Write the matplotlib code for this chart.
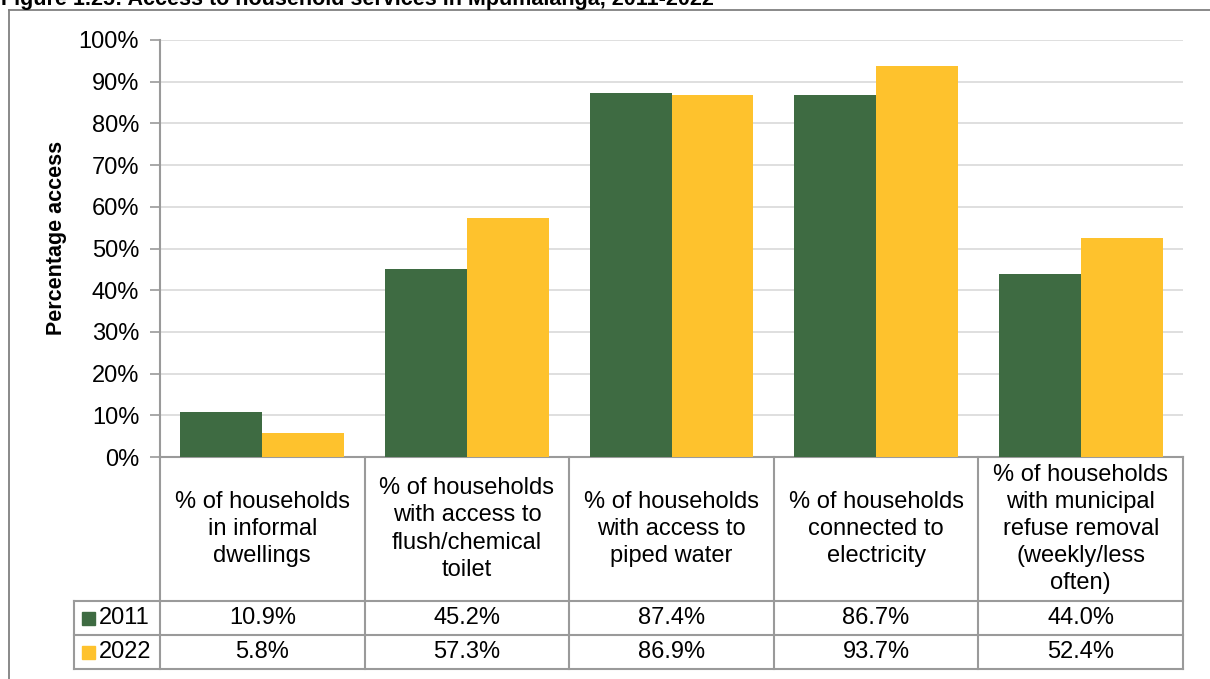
import matplotlib.pyplot as plt
import matplotlib.transforms as mtransforms
from matplotlib.patches import Rectangle
import numpy as np

plt.rcParams['font.family'] = ['Liberation Sans', 'DejaVu Sans']

categories = [
    "% of households\nin informal\ndwellings",
    "% of households\nwith access to\nflush/chemical\ntoilet",
    "% of households\nwith access to\npiped water",
    "% of households\nconnected to\nelectricity",
    "% of households\nwith municipal\nrefuse removal\n(weekly/less\noften)",
]
years = ["2011", "2022"]
vals_2011 = [10.9, 45.2, 87.4, 86.7, 44.0]
vals_2022 = [5.8, 57.3, 86.9, 93.7, 52.4]

GREEN = '#3E6B42'
YELLOW = '#FEC22D'
LINE = '#9a9a9a'
FS = 17

W, H = 1210, 679
fig = plt.figure(figsize=(W / 100, H / 100), dpi=100)

# axes box in pixels
left, right, top, bottom = 160, 1183, 40, 457
ax = fig.add_axes([left / W, 1 - bottom / H, (right - left) / W, (bottom - top) / H])

x = np.arange(len(categories))
bw = 0.4
ax.bar(x - bw / 2, vals_2011, width=bw, color=GREEN, zorder=3)
ax.bar(x + bw / 2, vals_2022, width=bw, color=YELLOW, zorder=3)

ax.set_xlim(-0.5, len(categories) - 0.5)
ax.set_ylim(0, 100)
ax.set_yticks(range(0, 101, 10))
ax.set_yticklabels([f"{v}%" for v in range(0, 101, 10)], fontsize=FS)
ax.set_xticks([])
ax.yaxis.grid(True, color='#d9d9d9', linewidth=1.2, zorder=0)
ax.tick_params(axis='y', length=7, width=1.2, color=LINE, pad=8)
for s in ['top', 'right']:
    ax.spines[s].set_visible(False)
for s in ['left', 'bottom']:
    ax.spines[s].set_color(LINE)
    ax.spines[s].set_linewidth(1.5)
ax.set_ylabel("Percentage access", fontsize=15.5, fontweight='bold')
ax.yaxis.set_label_coords(-0.091, 0.525)

# data table under the bars: x in data units, y in axes fraction
tr = mtransforms.blended_transform_factory(ax.transData, ax.transAxes)
px = 1.0 / (bottom - top)
y_head = -(601 - bottom) * px
y_row1 = -(635 - bottom) * px
y_row2 = -(669 - bottom) * px
x_leg = -0.5 - (left - 74) / ((right - left) / len(categories))
lk = dict(transform=tr, color=LINE, linewidth=1.5, clip_on=False)

for i in range(len(categories) + 1):
    ax.plot([i - 0.5, i - 0.5], [0, y_row2], **lk)
ax.plot([x_leg, len(categories) - 0.5], [y_head, y_head], **lk)
ax.plot([x_leg, len(categories) - 0.5], [y_row1, y_row1], **lk)
ax.plot([x_leg, len(categories) - 0.5], [y_row2, y_row2], **lk)
ax.plot([x_leg, x_leg], [y_head, y_row2], **lk)

for i, cat in enumerate(categories):
    ax.text(i, y_head / 2, cat, transform=tr, ha='center', va='center',
            fontsize=FS, linespacing=1.3)
    ax.text(i, (y_head + y_row1) / 2, f"{vals_2011[i]:.1f}%", transform=tr,
            ha='center', va='center', fontsize=FS)
    ax.text(i, (y_row1 + y_row2) / 2, f"{vals_2022[i]:.1f}%", transform=tr,
            ha='center', va='center', fontsize=FS)

# legend keys in the first column
for yr, col, (y0, y1) in zip(years, [GREEN, YELLOW], [(y_head, y_row1), (y_row1, y_row2)]):
    yc = (y0 + y1) / 2
    fx = 82 / W
    fy = 1 - (bottom - yc * (bottom - top)) / H
    fig.patches.append(Rectangle((fx, fy - 6.5 / H), 13 / W, 13 / H,
                                 transform=fig.transFigure, color=col))
    fig.text(99 / W, fy, yr, ha='left', va='center', fontsize=FS)

# outer frame and title
fig.lines.append(plt.Line2D([9 / W, 9 / W], [0, 1 - 10 / H], transform=fig.transFigure,
                            color='#808080', linewidth=1.3))
fig.lines.append(plt.Line2D([9 / W, 1], [1 - 10 / H, 1 - 10 / H], transform=fig.transFigure,
                            color='#808080', linewidth=1.3))
fig.text(1 / W, 1 + 1 / H, "Figure 1.25: Access to household services in Mpumalanga, 2011-2022",
         ha='left', va='center', fontsize=15.5, fontweight='bold')

fig.savefig('out.png', dpi=100)
